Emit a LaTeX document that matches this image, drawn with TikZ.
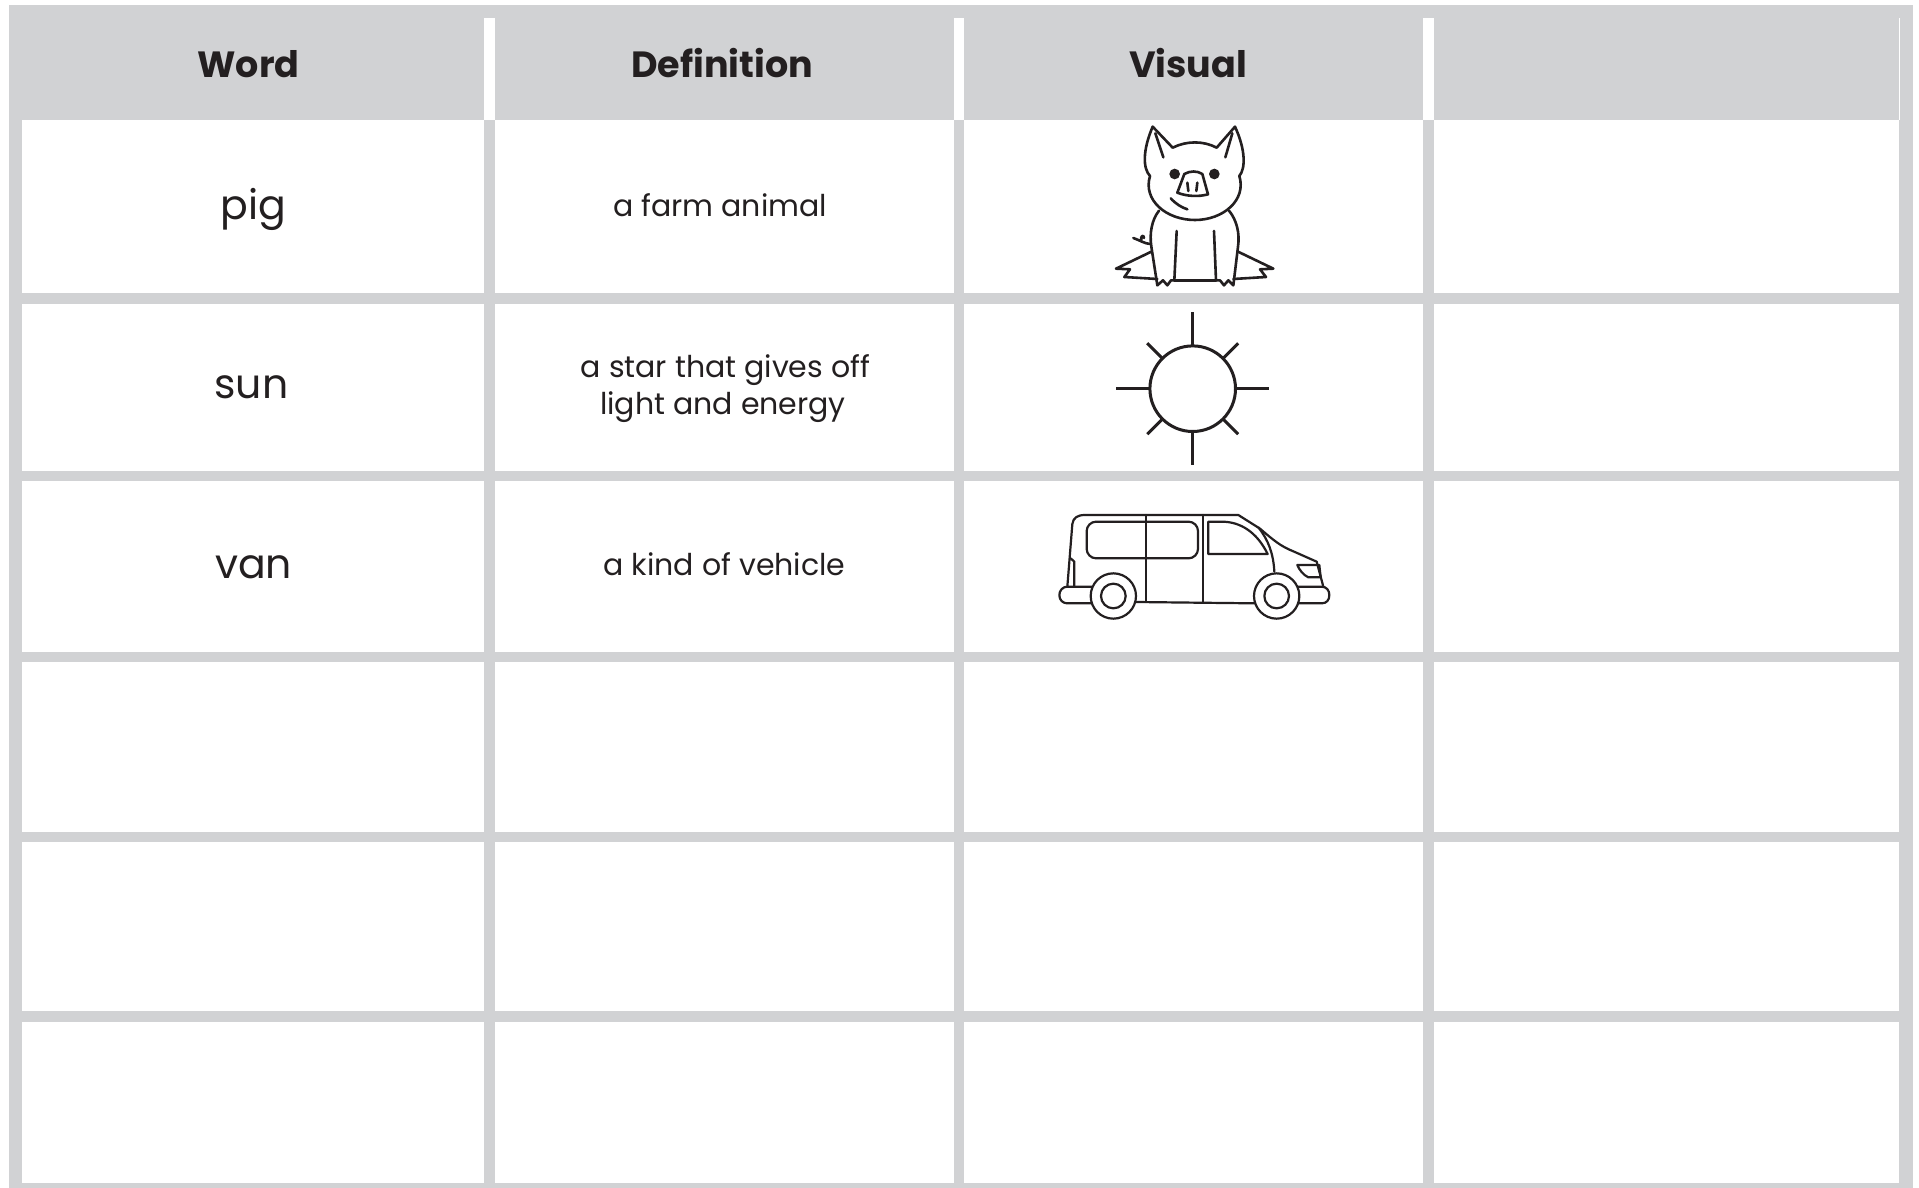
\documentclass[tikz,border=0pt]{standalone}
\usepackage{fontspec}
\setmainfont{Poppins}
\definecolor{gridgray}{HTML}{D1D2D4}
\definecolor{ink}{HTML}{231F20}
\tikzset{
  cellbox/.style={fill=white,draw=none},
  headtxt/.style={anchor=base,inner sep=0pt,text=ink,font=\fontsize{36.5}{44}\selectfont\bfseries},
  wordtxt/.style={anchor=base,inner sep=0pt,text=ink,font=\fontsize{41}{48}\selectfont},
  deftxt/.style={anchor=base,inner sep=0pt,text=ink,font=\fontsize{30}{36}\selectfont},
  drawline/.style={draw=ink,line cap=round,line join=round},
}
\begin{document}
\begin{tikzpicture}[x=1pt,y=-1pt]
\useasboundingbox (0,0) rectangle (1919,1188);
% grey frame
\fill[gridgray] (9,5) rectangle (1913,1188);
% header white separators
\fill[white] (484,18) rectangle (495,120);
\fill[white] (954,18) rectangle (964,120);
\fill[white] (1423,18) rectangle (1434,120);
\fill[white] (1898.6,18) rectangle (1899.8,120);
% body cells
\foreach \ya/\yb [count=\r] in {120/293,304/471,481/652,662/832,842/1011,1022/1183}{
  \foreach \xa/\xb [count=\c] in {22/484,495/954,964/1423,1434/1899}{
    \path[cellbox] (\xa,\ya) rectangle (\xb,\yb);
  }
}
% header texts
\node[headtxt] (hword) at (248.5,78) {Word};
\node[headtxt] (hdef) at (722,78) {Definition};
\node[headtxt] (hvis) at (1188,78) {Visual};
% words
\node[wordtxt] (wpig) at (253.5,219) {pig};
\node[wordtxt] (wsun) at (251.5,398.5) {sun};
\node[wordtxt] (wvan) at (253.5,578) {van};
% definitions
\node[deftxt] (dpig) at (720,216.5) {a farm animal};
\node[deftxt] (dsuna) at (725.5,377) {a star that gives off};
\node[deftxt] (dsunb) at (723,414) {light and energy};
\node[deftxt] (dvan) at (724.5,575) {a kind of vehicle};
% pig
\begin{scope}[shift={(1080,100)},x=0.33333pt,y=-0.33333pt,drawline,line width=2.6pt]
  % body
  \draw (237,332) .. controls (215,360) and (208,400) .. (214,440) -- (232,556) -- (249,541) -- (262,556) -- (273,541) -- (283,541);
  \draw (447,332) .. controls (470,360) and (480,400) .. (474,440) -- (460,556) -- (445,541) -- (432,556) -- (420,541) -- (408,541);
  \draw (283,541) -- (408,541);
  \draw (290,393) -- (283,541);
  \draw (402,393) -- (408,541);
  % head
  \draw[fill=white] (210,228) .. controls (188,205) and (188,150) .. (218,80) -- (278,143)
     .. controls (320,122) and (370,122) .. (410,143) -- (465,80)
     .. controls (497,150) and (497,205) .. (478,228)
     .. controls (500,300) and (430,360) .. (345,360)
     .. controls (258,360) and (188,300) .. (210,228) -- cycle;
  \draw (226,100) -- (250,172);
  \draw (457,100) -- (436,172);
  \fill[ink] (284,222) circle (16);
  \fill[ink] (403,222) circle (16);
  \draw (313,222) .. controls (330,212) and (352,212) .. (367,222) -- (384,283) .. controls (355,291) and (320,289) .. (292,278) -- cycle;
  \draw (322,248) -- (325,273);
  \draw (352,248) -- (349,273);
  \draw (272,295) .. controls (288,312) and (304,322) .. (322,328);
  % grass
  \draw (214,455) -- (108,506) -- (150,508) -- (133,531) -- (232,537);
  \draw (474,455) -- (580,506) -- (540,508) -- (558,531) -- (460,537);
  % tail
  \draw (212,432) .. controls (195,432) and (178,420) .. (160,414);
  \draw (184,421) .. controls (180,408) and (192,402) .. (192,414);
\end{scope}
% sun
\begin{scope}[shift={(1192.7,388.7)},drawline,line width=3pt,line cap=butt]
  \draw (0,0) coordinate (suncentre) circle (42.8);
  \foreach \a in {0,90,180,270}{\draw (suncentre) ++(\a:42.8) -- ++(\a:33.5);}
  \foreach \a in {45,135,225,315}{\draw (suncentre) ++(\a:42.8) -- ++(\a:21.5);}
\end{scope}
% van
\begin{scope}[shift={(1040,490)},x=0.33333pt,y=-0.33333pt,drawline,line width=2.2pt]
  % bumpers
  \draw (155,290) -- (82,290) .. controls (68,290) and (58,302) .. (58,315) .. controls (58,330) and (68,340) .. (82,340) -- (160,340);
  \draw (775,290) -- (845,290) .. controls (860,290) and (868,302) .. (868,315) .. controls (868,330) and (860,340) .. (845,340) -- (770,340);
  % body
  \draw (82,290) -- (97,102) .. controls (100,83) and (112,75) .. (135,75) -- (595,75) -- (660,116)
     .. controls (700,150) and (720,168) .. (760,184) -- (830,215) -- (850,290);
  \draw (288,336) -- (645,340);
  \draw (92,205) -- (103,215) -- (103,290);
  \draw (655,112) .. controls (685,150) and (700,190) .. (703,245);
  % windows
  \draw[rounded corners=9.5pt] (140,95) rectangle (474,205);
  \draw (318,75) -- (318,336);
  \draw (488,75) -- (488,338);
  \draw (505,95) -- (505,192) -- (683,192) .. controls (650,125) and (600,95) .. (545,95) -- cycle;
  % headlight
  \draw (772,225) -- (838,225) -- (842,262) -- (805,262) .. controls (790,255) and (778,240) .. (772,225) -- cycle;
  % wheels
  \draw[fill=white] (220,318) circle (68);
  \draw (220,318) circle (37);
  \draw[fill=white] (710,318) circle (68);
  \draw (710,318) circle (37);
\end{scope}
\end{tikzpicture}
\end{document}
